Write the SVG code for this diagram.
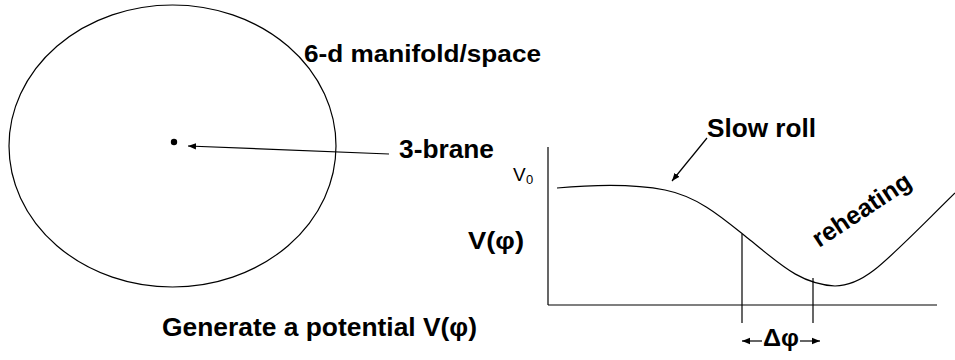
<svg xmlns="http://www.w3.org/2000/svg" width="955" height="360" viewBox="0 0 955 360">
<defs>
<style>
.t{font-family:"Liberation Sans",Arial,sans-serif;font-weight:bold;fill:#000;}
.r{font-family:"Liberation Sans",Arial,sans-serif;fill:#000;}
.ln{fill:none;stroke:#000;stroke-width:1.2;}
</style>
<marker id="ah" viewBox="0 0 10 10" refX="10" refY="5" markerWidth="8" markerHeight="8" markerUnits="userSpaceOnUse" orient="auto">
<path d="M0,1 L10,5 L0,9 Z" fill="#000"/>
</marker>
</defs>
<rect width="955" height="360" fill="#fff"/>
<g id="manifold">
<ellipse cx="172.5" cy="146" rx="163.5" ry="141" class="ln"/>
<text class="t" x="304" y="62" font-size="24" textLength="237" lengthAdjust="spacingAndGlyphs">6-d manifold/space</text>
</g>
<g id="brane">
<circle cx="174" cy="142" r="3.2" fill="#000"/>
<text class="t" x="399" y="158" font-size="25" textLength="95" lengthAdjust="spacingAndGlyphs">3-brane</text>
</g>
<g id="caption">
<text class="t" x="162" y="336" font-size="25" textLength="315" lengthAdjust="spacingAndGlyphs">Generate a potential V(φ)</text>
</g>
<g id="plot">
<line x1="548" y1="147" x2="548" y2="305" class="ln"/>
<line x1="548" y1="305" x2="937" y2="305" class="ln"/>
<path d="M557,188 C590,185 630,183 665,190 C700,197 725,220 750,240 C780,264 800,284 835,286 C865,286 885,262 955,193" class="ln"/>
<line x1="742" y1="234" x2="742" y2="323" class="ln"/>
<line x1="813" y1="278" x2="813" y2="323" class="ln"/>
<text class="r" x="513" y="181" font-size="19">V</text>
<text class="r" x="526" y="184" font-size="13">0</text>
<text class="t" x="468" y="249" font-size="24" textLength="56" lengthAdjust="spacingAndGlyphs">V(φ)</text>
<text class="t" x="707" y="137" font-size="25" textLength="109" lengthAdjust="spacingAndGlyphs">Slow roll</text>
<text class="t" font-size="25" transform="translate(819,248) rotate(-33.5)" textLength="113" lengthAdjust="spacingAndGlyphs">reheating</text>
<text class="t" x="763" y="346" font-size="23" textLength="36" lengthAdjust="spacingAndGlyphs">Δφ</text>
</g>
<g id="connectors">
<line x1="389" y1="154" x2="188" y2="146" class="ln" marker-end="url(#ah)"/>
<line x1="707" y1="138" x2="672" y2="181" class="ln" marker-end="url(#ah)"/>
<line x1="762" y1="341" x2="742" y2="341" class="ln" marker-end="url(#ah)"/>
<line x1="800" y1="341" x2="820" y2="341" class="ln" marker-end="url(#ah)"/>
</g>
</svg>
